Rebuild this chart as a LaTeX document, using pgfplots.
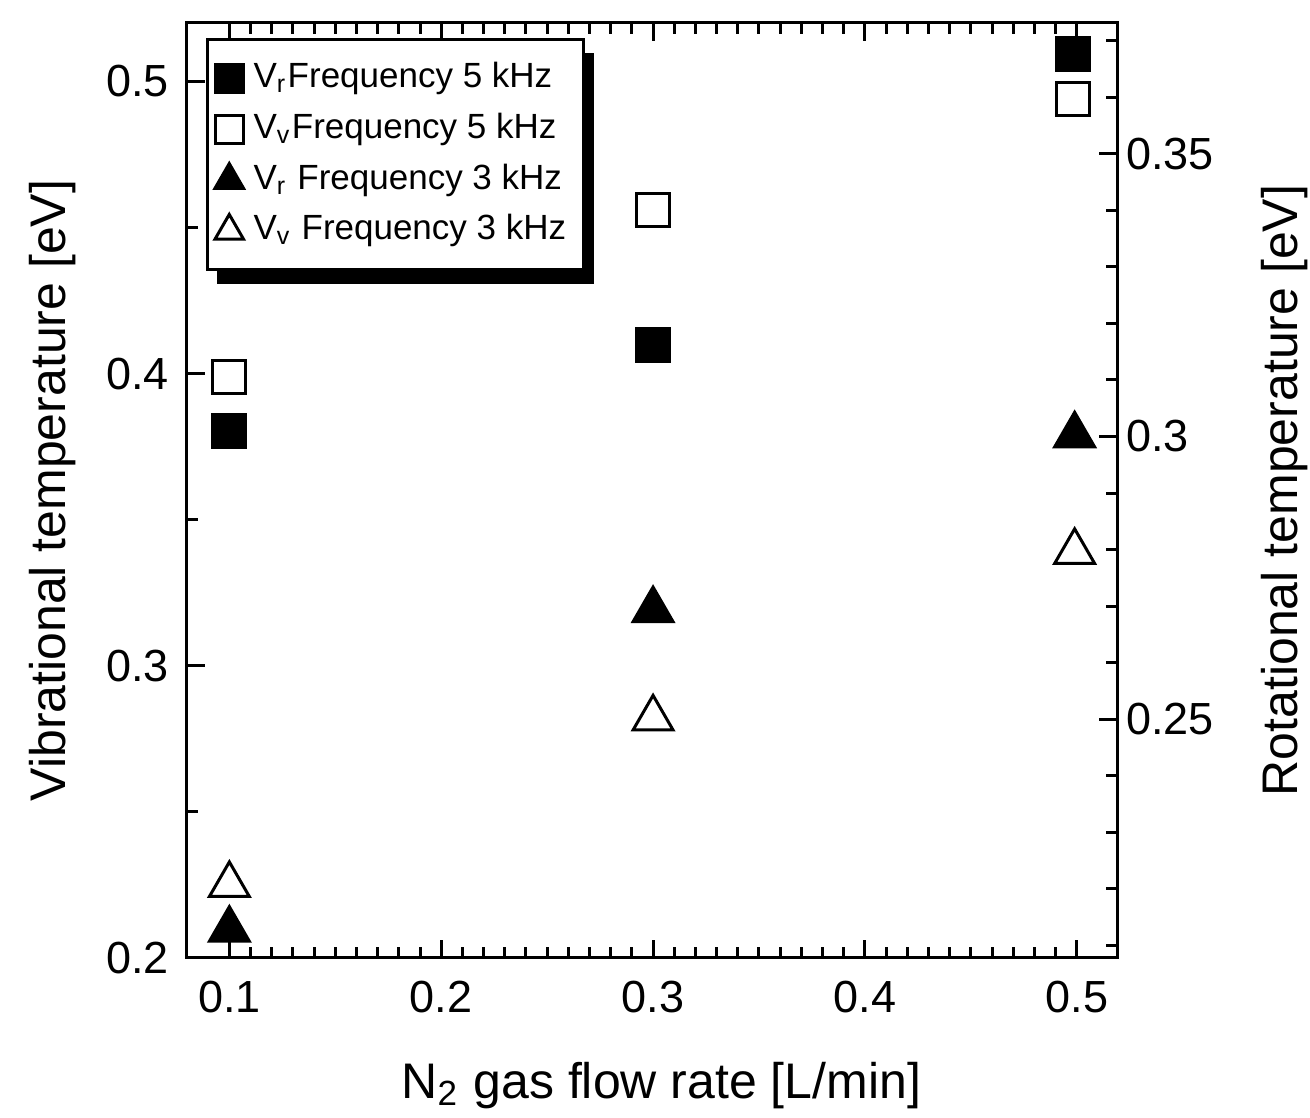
\documentclass[border=0pt]{standalone}
\usepackage{fontspec}
\setmainfont{Liberation Sans}
\usepackage{pgfplots}
\pgfplotsset{compat=1.18}
\usetikzlibrary{shadows}

\begin{document}
\begin{tikzpicture}
\path[use as bounding box] (-37.4pt,-32pt) rectangle (224.6pt,191.6pt);
\pgfplotsset{
  every axis/.append style={
    width=186pt, height=187pt, scale only axis,
    xmin=0.08, xmax=0.519,
    line width=0.6pt,
    tick style={line width=0.6pt, black},
    major tick length=3.6pt, minor tick length=2.2pt,
    tick label style={font=\fontsize{9}{10}\selectfont},
    label style={font=\fontsize{9}{10}\selectfont},
    /pgf/number format/assume math mode=true,
  },
}
\begin{axis}[
  ymin=0.2, ymax=0.52,
  xtick={0.1,0.2,0.3,0.4,0.5}, minor x tick num=9,
  ytick={0.2,0.3,0.4,0.5}, minor y tick num=1,
  ytick pos=left,
  xticklabel style={yshift=-1pt},
  xlabel={N\textsubscript{2} gas flow rate [L/min]},
  ylabel={Vibrational temperature [eV]},
  every axis x label/.style={at={(axis description cs:0.51,-0.136)}, anchor=center},
  every axis y label/.style={at={(axis description cs:-0.145,0.5)}, anchor=center, rotate=90},
]
  % V_v, 5 kHz (open squares)
  \addplot[only marks, mark=square, mark size=3.3pt, mark options={draw=black, fill=white, line width=0.6pt}, forget plot]
    coordinates {(0.1,0.399) (0.3,0.456) (0.498,0.494)};
  % V_v, 3 kHz (open triangles)
  \addplot[only marks, mark=triangle, mark size=4.6pt, mark options={draw=black, fill=white, line width=0.6pt}, forget plot]
    coordinates {(0.1,0.225) (0.3,0.282) (0.499,0.339)};
\end{axis}
\begin{axis}[
  ymin=0.2078, ymax=0.3731,
  hide x axis,
  axis y line*=right,
  ytick={0.25,0.3,0.35},
  minor ytick={0.21,0.22,0.23,0.24,0.26,0.27,0.28,0.29,0.31,0.32,0.33,0.34,0.36,0.37},
  yticklabel style={xshift=-1.8pt},
  ylabel={Rotational temperature [eV]},
  every axis y label/.style={at={(axis description cs:1.18,0.5)}, anchor=center, rotate=90},
  legend cell align=left,
  legend image code/.code={\draw[mark repeat=2,mark phase=2] plot coordinates {(0cm,0cm) (0.09cm,0cm) (0.18cm,0cm)};},
  legend style={at={(axis description cs:0.0204,0.984)}, anchor=north west,
    draw=black, line width=0.6pt, fill=white,
    font=\fontsize{7}{8}\selectfont, row sep=-0.4pt,
    inner xsep=1.5pt, inner ysep=2.5pt,
    drop shadow={shadow xshift=2pt, shadow yshift=-2.8pt, fill=black, opacity=1}},
]
  \addlegendimage{only marks, mark=square*, mark size=2.8pt, black}
  \addlegendentry{V\textsubscript{r}Frequency 5 kHz}
  \addlegendimage{only marks, mark=square, mark size=2.8pt, mark options={draw=black, fill=white, line width=0.6pt}}
  \addlegendentry{V\textsubscript{v}Frequency 5 kHz}
  \addlegendimage{only marks, mark=triangle*, mark size=3.3pt, black}
  \addlegendentry{V\textsubscript{r} Frequency 3 kHz}
  \addlegendimage{only marks, mark=triangle, mark size=3.3pt, mark options={draw=black, fill=white, line width=0.6pt}}
  \addlegendentry{V\textsubscript{v} Frequency 3 kHz}
  % V_r, 5 kHz (filled squares)
  \addplot[only marks, mark=square*, mark size=3.3pt, black, forget plot]
    coordinates {(0.1,0.3009) (0.3,0.3161) (0.498,0.3677)};
  % V_r, 3 kHz (filled triangles)
  \addplot[only marks, mark=triangle*, mark size=4.6pt, black, forget plot]
    coordinates {(0.1,0.2128) (0.3,0.2693) (0.499,0.3002)};
\end{axis}
\end{tikzpicture}
\end{document}
